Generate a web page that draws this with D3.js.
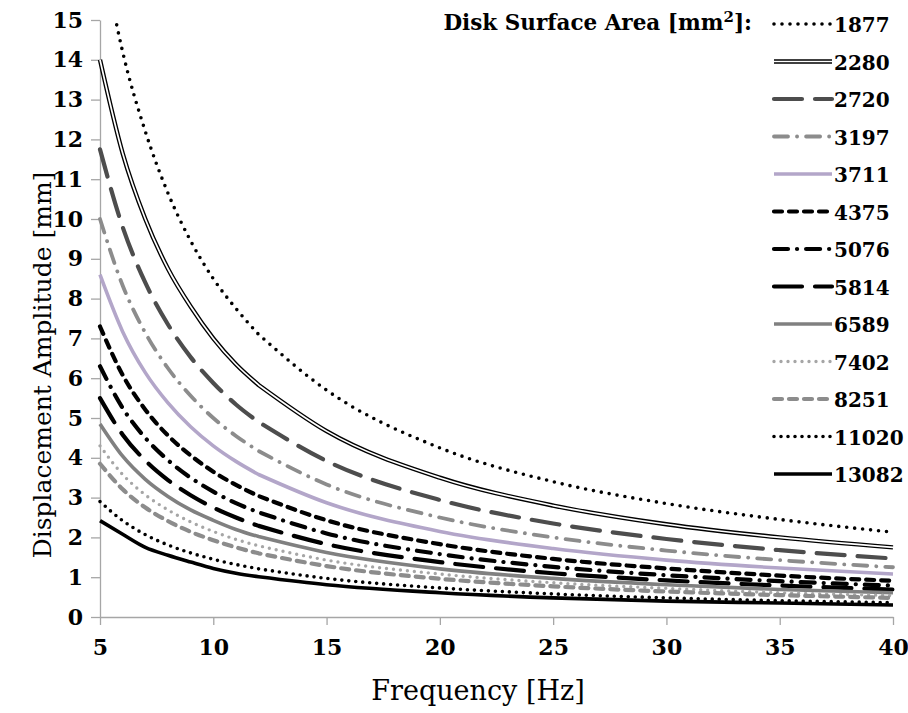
<!DOCTYPE html>
<html>
<head>
<meta charset="utf-8">
<script src="https://cdn.jsdelivr.net/npm/d3@7"></script>
<style>
  body { margin: 0; background: #fff; }
  svg { display: block; }
  .axis path, .axis line { stroke: #a6a6a6; stroke-width: 1.3; }
  .axis text { font-family: "DejaVu Serif", serif; font-weight: bold; font-size: 22px; fill: #000; }
</style>
</head>
<body>
<div id="chart-wrapper"></div>
<script>
// frequencies the curves were sampled at (Hz)
var freqs = [5, 6, 7, 8, 9, 10, 11, 12, 15, 20, 25, 30, 35, 40];

// disk surface areas (legend) and displacement amplitudes [mm]
var areas = ["1877", "2280", "2720", "3197", "3711", "4375", "5076", "5814", "6589", "7402", "8251", "11020", "13082"];

var amp1877  = [17.05, 14.2, 12.2, 10.65, 9.45, 8.5, 7.75, 7.1, 5.7, 4.25, 3.4, 2.85, 2.45, 2.13];
var amp2280  = [14.0, 11.65, 10.0, 8.75, 7.8, 7.0, 6.35, 5.83, 4.67, 3.5, 2.8, 2.33, 2.0, 1.75];
var amp2720  = [11.75, 9.8, 8.4, 7.35, 6.53, 5.88, 5.34, 4.9, 3.92, 2.94, 2.35, 1.96, 1.68, 1.47];
var amp3197  = [10.0, 8.33, 7.14, 6.25, 5.56, 5.0, 4.55, 4.17, 3.33, 2.5, 2.0, 1.67, 1.43, 1.25];
var amp3711  = [8.6, 7.17, 6.14, 5.38, 4.78, 4.3, 3.91, 3.58, 2.87, 2.15, 1.72, 1.43, 1.23, 1.08];
var amp4375  = [7.3, 6.08, 5.21, 4.56, 4.06, 3.65, 3.32, 3.04, 2.43, 1.83, 1.46, 1.22, 1.04, 0.91];
var amp5076  = [6.3, 5.25, 4.5, 3.94, 3.5, 3.15, 2.86, 2.63, 2.1, 1.58, 1.26, 1.05, 0.9, 0.79];
var amp5814  = [5.5, 4.58, 3.93, 3.44, 3.06, 2.75, 2.5, 2.29, 1.83, 1.38, 1.1, 0.92, 0.79, 0.69];
var amp6589  = [4.85, 4.04, 3.46, 3.03, 2.69, 2.43, 2.2, 2.02, 1.62, 1.21, 0.97, 0.81, 0.69, 0.61];
var amp7402  = [4.3, 3.58, 3.07, 2.69, 2.39, 2.15, 1.95, 1.79, 1.43, 1.08, 0.86, 0.72, 0.61, 0.54];
var amp8251  = [3.85, 3.21, 2.75, 2.41, 2.14, 1.93, 1.75, 1.6, 1.28, 0.96, 0.77, 0.64, 0.55, 0.48];
var amp11020 = [2.9, 2.42, 2.07, 1.81, 1.61, 1.45, 1.32, 1.21, 0.97, 0.73, 0.58, 0.48, 0.41, 0.36];
var amp13082 = [2.42, 2.08, 1.75, 1.55, 1.38, 1.22, 1.1, 1.01, 0.81, 0.61, 0.48, 0.4, 0.35, 0.3];

var xTicks = [5, 10, 15, 20, 25, 30, 35, 40];
var yTicks = d3.range(0, 16);

var allAmps = [amp1877, amp2280, amp2720, amp3197, amp3711, amp4375, amp5076,
               amp5814, amp6589, amp7402, amp8251, amp11020, amp13082];

// line styles per series
var styles = [
  {color: "#000",    width: 3.6, dash: "0 8",          cap: "round"},
  {color: "#000",    width: 4.4, dash: null,           cap: "butt", double: true},
  {color: "#4d4d4d", width: 4.2, dash: "28 13",        cap: "round"},
  {color: "#8c8c8c", width: 3.8, dash: "14 9 0.1 9",   cap: "round"},
  {color: "#b3a6c9", width: 3.6, dash: null,           cap: "butt"},
  {color: "#000",    width: 4.2, dash: "8 7",          cap: "round"},
  {color: "#000",    width: 4.2, dash: "14 9 0.1 9",   cap: "round"},
  {color: "#000",    width: 4.2, dash: "28 13",        cap: "round"},
  {color: "#808080", width: 3.6, dash: null,           cap: "butt"},
  {color: "#a6a6a6", width: 3.4, dash: "0 7",          cap: "round"},
  {color: "#8c8c8c", width: 4.2, dash: "8 7",          cap: "round"},
  {color: "#000",    width: 3.6, dash: "0 7",          cap: "round"},
  {color: "#000",    width: 3.6, dash: null,           cap: "butt"}
];

var W = 908, H = 713;
var margin = {top: 20, right: 15, bottom: 96, left: 100},
    width = W - margin.left - margin.right,
    height = H - margin.top - margin.bottom;

var svg = d3.select("#chart-wrapper")
  .append("svg")
    .attr("width", W)
    .attr("height", H);

var g = svg.append("g")
    .attr("transform", `translate(${margin.left},${margin.top})`);

var x = d3.scaleLinear().domain([5, 40]).range([0, width]);
var y = d3.scaleLinear().domain([0, 15]).range([height, 0]);

// axes
g.append("g")
  .attr("class", "axis")
  .attr("transform", `translate(0,${height})`)
  .call(d3.axisBottom(x).tickValues(xTicks).tickSizeInner(8).tickSizeOuter(0).tickPadding(14))

g.append("g")
  .attr("class", "axis")
  .call(d3.axisLeft(y).tickValues(yTicks).tickSizeInner(9).tickSizeOuter(0).tickPadding(8))

// clip the curves to the plot area
svg.append("clipPath").attr("id", "plotclip")
  .append("rect")
    .attr("x", -6).attr("y", 0)
    .attr("width", width + 12).attr("height", height + 6);

var line = d3.line()
  .x(d => x(d[0]))
  .y(d => y(d[1]))
  .curve(d3.curveMonotoneX);

// two smooth pieces joined at 12 Hz, where the curves bend
function curvePath(vals) {
  var pts = freqs.map((f, i) => [f, vals[i]]);
  var a = line(pts.filter(p => p[0] <= 12));
  var b = line(pts.filter(p => p[0] >= 12));
  return a + "L" + b.slice(1);
}

var plot = g.append("g").attr("clip-path", "url(#plotclip)");

allAmps.forEach(function(vals, i) {
  var s = styles[i];
  var p = plot.append("path")
    .attr("d", curvePath(vals))
    .attr("fill", "none")
    .attr("stroke", s.color)
    .attr("stroke-width", s.width)
    .attr("stroke-linecap", s.cap)
    .attr("stroke-linejoin", "round");
  if (s.dash) p.attr("stroke-dasharray", s.dash);
  if (s.double) {
    plot.append("path")
      .attr("d", curvePath(vals))
      .attr("fill", "none")
      .attr("stroke", "#fff")
      .attr("stroke-width", 1.7)
      .attr("stroke-linejoin", "round");
  }
});

// axis titles
svg.append("text")
  .attr("x", 478)
  .attr("y", 700)
  .attr("text-anchor", "middle")
  .style("font-family", "DejaVu Serif, serif")
  .style("font-size", "27px")
  .text("Frequency [Hz]");

svg.append("text")
  .attr("transform", "translate(51,365) rotate(-90)")
  .attr("text-anchor", "middle")
  .style("font-family", "DejaVu Serif, serif")
  .style("font-size", "25px")
  .text("Displacement Amplitude [mm]");

// legend
var legend = svg.append("g")
  .style("font-family", "DejaVu Serif, serif")
  .style("font-weight", "bold")
  .style("font-size", "20px");

var title = legend.append("text")
  .attr("x", 752)
  .attr("y", 30)
  .attr("text-anchor", "end")
  .style("font-size", "21.5px");
title.append("tspan").text("Disk Surface Area [mm");
title.append("tspan").attr("dy", -8).style("font-size", "15px").text("2");
title.append("tspan").attr("dy", 8).text("]:");

var rowY = d3.scaleLinear().domain([0, areas.length - 1]).range([24, 474]);

areas.forEach(function(name, i) {
  var s = styles[i];
  var yy = rowY(i);
  var l = legend.append("line")
    .attr("x1", 774).attr("x2", 832)
    .attr("y1", yy).attr("y2", yy)
    .attr("stroke", s.color)
    .attr("stroke-width", s.width)
    .attr("stroke-linecap", s.dash ? s.cap : "butt");
  if (s.dash) l.attr("stroke-dasharray", s.dash);
  if (s.double) {
    legend.append("line")
      .attr("x1", 774).attr("x2", 832)
      .attr("y1", yy).attr("y2", yy)
      .attr("stroke", "#fff")
      .attr("stroke-width", 1.7);
  }
  legend.append("text")
    .attr("x", 834)
    .attr("y", yy + 8)
    .text(name);
});
</script>
</body>
</html>
